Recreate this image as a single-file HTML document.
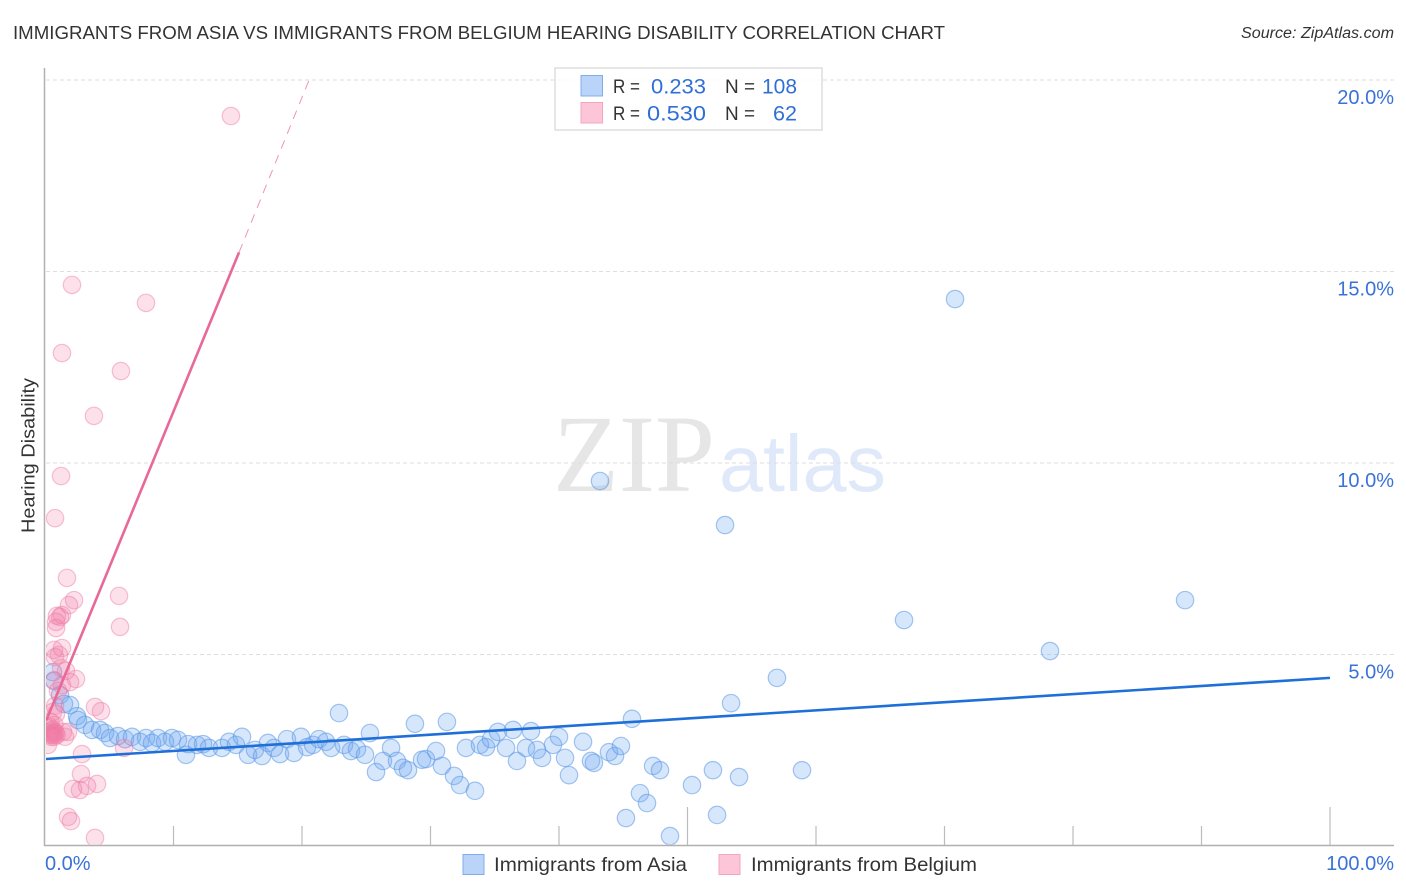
<!DOCTYPE html>
<html lang="en">
<head>
<meta charset="utf-8">
<title>Immigrants from Asia vs Immigrants from Belgium Hearing Disability Correlation Chart</title>
<style>
html,body{margin:0;padding:0;background:#fff;width:1406px;height:892px;overflow:hidden}
svg{display:block;font-family:"Liberation Sans",sans-serif}
</style>
</head>
<body>
<svg id="chart" width="1406" height="892" viewBox="0 0 1406 892" xmlns="http://www.w3.org/2000/svg">
  <defs>
    <clipPath id="plot-clip"><rect x="46" y="60" width="1350" height="784.5"/></clipPath>
  </defs>
  <rect width="1406" height="892" fill="#fff"/>
  <text x="13" y="39" font-size="18.5" fill="#333" textLength="932" lengthAdjust="spacingAndGlyphs">IMMIGRANTS FROM ASIA VS IMMIGRANTS FROM BELGIUM HEARING DISABILITY CORRELATION CHART</text>
  <text x="1394" y="38" font-size="15.5" font-style="italic" fill="#333" text-anchor="end" textLength="153" lengthAdjust="spacingAndGlyphs">Source: ZipAtlas.com</text>
  <g>
    <text x="553" y="491" font-family="'Liberation Serif',serif" font-size="110" fill="#e6e6e6" textLength="162" lengthAdjust="spacingAndGlyphs">ZIP</text>
    <text x="719" y="491" font-size="80" fill="#dfe9f9" textLength="167" lengthAdjust="spacingAndGlyphs">atlas</text>
  </g>
  <g id="grid"></g>
  <g id="axes"></g>
  <g id="labels"></g>
  <text transform="translate(34.5,455.5) rotate(-90)" font-size="18.5" fill="#333" text-anchor="middle" textLength="155" lengthAdjust="spacingAndGlyphs">Hearing Disability</text>
  <g clip-path="url(#plot-clip)">
    <g id="points"></g>
    <g id="lines"></g>
  </g>
  <g>
    <rect x="555" y="68" width="267" height="62" fill="#fff" fill-opacity="0.85" stroke="#ddd" stroke-width="1.5"/>
    <rect x="581" y="75.5" width="21.5" height="20.5" fill="#b9d4f8" stroke="#7fadea" stroke-width="1"/>
    <rect x="581" y="102.5" width="21.5" height="20.5" fill="#fcc5d8" stroke="#f3a5c0" stroke-width="1"/>
    <g font-size="19.5" fill="#333">
      <text x="613" y="93" textLength="27" lengthAdjust="spacingAndGlyphs">R =</text>
      <text x="725" y="93" textLength="30" lengthAdjust="spacingAndGlyphs">N =</text>
      <text x="613" y="120" textLength="27" lengthAdjust="spacingAndGlyphs">R =</text>
      <text x="725" y="120" textLength="30" lengthAdjust="spacingAndGlyphs">N =</text>
    </g>
    <g font-size="21" fill="#2f6fd6">
      <text x="651" y="93.5" textLength="55" lengthAdjust="spacingAndGlyphs">0.233</text>
      <text x="762" y="93.5" textLength="35" lengthAdjust="spacingAndGlyphs">108</text>
      <text x="647" y="120.5" textLength="59" lengthAdjust="spacingAndGlyphs">0.530</text>
      <text x="773" y="120.5" textLength="24" lengthAdjust="spacingAndGlyphs">62</text>
    </g>
  </g>
  <g>
    <rect x="463" y="854.5" width="21" height="20" fill="#b9d4f8" stroke="#7fadea" stroke-width="1"/>
    <text x="494" y="871" font-size="19.5" fill="#333" textLength="193" lengthAdjust="spacingAndGlyphs">Immigrants from Asia</text>
    <rect x="719" y="854.5" width="21" height="20" fill="#fcc5d8" stroke="#f3a5c0" stroke-width="1"/>
    <text x="751" y="871" font-size="19.5" fill="#333" textLength="226" lengthAdjust="spacingAndGlyphs">Immigrants from Belgium</text>
  </g>
</svg>
<script>
const asiaX = [0.62,0.70,1.17,1.48,1.95,2.49,2.57,3.11,3.66,4.28,4.67,5.06,5.68,6.23,6.77,7.39,7.86,8.33,8.79,9.34,9.88,10.35,10.97,11.13,11.83,12.30,12.76,13.77,14.32,14.86,15.33,15.80,16.34,16.89,17.35,17.82,18.29,18.83,19.38,19.92,20.39,20.86,21.32,21.87,22.26,22.88,23.27,23.81,24.28,24.90,25.29,25.76,26.30,26.93,27.39,27.86,28.25,28.79,29.34,29.65,30.43,30.89,31.28,31.83,32.30,32.76,33.46,33.85,34.32,34.71,35.25,35.88,36.42,36.73,37.43,37.82,38.29,38.68,39.53,40.00,40.47,40.78,41.87,42.49,42.72,43.19,43.89,44.36,44.82,45.21,45.68,46.30,46.85,47.32,47.86,48.64,50.35,51.98,52.30,52.92,53.39,54.01,56.96,58.91,66.85,70.82,78.21,88.72];
const asiaY = [4.54,4.31,3.94,3.71,3.68,3.39,3.29,3.16,3.03,3.03,2.95,2.82,2.87,2.79,2.85,2.72,2.82,2.69,2.82,2.72,2.82,2.77,2.38,2.66,2.64,2.66,2.56,2.56,2.72,2.64,2.85,2.38,2.51,2.35,2.69,2.56,2.40,2.79,2.43,2.85,2.58,2.64,2.79,2.72,2.56,3.47,2.64,2.48,2.53,2.38,2.95,1.93,2.22,2.56,2.22,2.04,1.98,3.19,2.25,2.27,2.48,2.09,3.24,1.83,1.59,2.56,1.44,2.64,2.58,2.79,2.98,2.56,3.03,2.22,2.56,3.00,2.51,2.30,2.64,2.85,2.30,1.85,2.72,2.22,2.17,9.53,2.45,2.35,2.61,0.73,3.32,1.38,1.12,2.09,1.98,0.26,1.59,1.98,0.81,8.38,3.73,1.80,4.39,1.98,5.90,14.28,5.09,6.42];
const belgiumX = [14.47,2.10,7.86,1.32,5.91,3.81,1.25,0.78,1.71,5.76,5.84,2.26,1.87,1.32,0.93,1.17,0.86,0.86,0.70,1.32,0.78,1.09,1.25,1.63,2.41,1.95,0.70,1.32,1.01,3.89,4.36,0.78,0.62,0.86,0.43,0.74,0.36,0.59,0.43,0.74,0.36,0.59,0.82,0.43,0.67,0.90,0.51,0.74,1.40,1.56,1.79,0.23,6.15,2.88,2.80,4.05,3.27,2.72,2.18,1.79,2.02,3.89];
const belgiumY = [19.06,14.65,14.18,12.87,12.40,11.23,9.66,8.56,7.00,6.53,5.72,6.42,6.29,6.03,6.01,5.98,5.85,5.69,5.12,5.17,4.93,4.99,4.65,4.57,4.36,4.28,4.33,4.20,4.05,3.63,3.52,3.66,3.50,3.45,3.24,3.16,3.11,3.03,3.00,2.98,2.95,2.95,2.95,2.90,2.90,2.90,2.85,2.85,2.98,2.85,2.98,2.64,2.56,2.40,1.88,1.62,1.57,1.46,1.49,0.76,0.65,0.21];
const asiaTrendX = [0,100];
const asiaTrendY = [2.27,4.39];
const belgiumSolidX = [0.1,15.1];
const belgiumSolidY = [3.28,15.5];
const belgiumDashX = [15.1,20.55];
const belgiumDashY = [15.5,20.0];
const yTicks = [5,10,15,20];
const yTickLabels = ["5.0%","10.0%","15.0%","20.0%"];
const xTicks = [10,20,30,40,50,60,70,80,90,100];
const xTickMajor = [50,100];
const xEndTicks = [0,100];
const xEndLabels = ["0.0%","100.0%"];

const NS = 'http://www.w3.org/2000/svg';
const xScale = v => 45 + v * 12.85;
const yScale = v => 846 - v * 38.3;
function mk(tag, attrs, parent){
  const el = document.createElementNS(NS, tag);
  for (const k in attrs) el.setAttribute(k, attrs[k]);
  parent.appendChild(el);
  return el;
}
const gridG = document.getElementById('grid');
const axesG = document.getElementById('axes');
const labelsG = document.getElementById('labels');
const pointsG = document.getElementById('points');
const linesG = document.getElementById('lines');

yTicks.forEach((t, i) => {
  const g = mk('line', {x1:46, x2:1394, y1:yScale(t), y2:yScale(t), stroke:'#dedede', 'stroke-width':1, 'stroke-dasharray':'4 3'}, gridG);
  
  
  const l = mk('text', {x:1394, y:yScale(t)+24, 'font-size':20, fill:'#3a72d8', 'text-anchor':'end'}, labelsG);
  l.textContent = yTickLabels[i];
  
  
});

const yAxis = mk('line', {x1:44.5, x2:44.5, y1:68, y2:846, stroke:'#b0b0b0', 'stroke-width':1.5}, axesG);


const xAxis = mk('line', {x1:44, x2:1394, y1:845.5, y2:845.5, stroke:'#b0b0b0', 'stroke-width':1.5}, axesG);


xTicks.forEach(t => {
  const top = xTickMajor.includes(t) ? 807 : 826;
  const k = mk('line', {x1:xScale(t), x2:xScale(t), y1:top, y2:845, stroke:'#bcbcbc', 'stroke-width':1.2}, axesG);
  
  
});
xEndTicks.forEach((t, i) => {
  const anchorX = i === 0 ? 45 : 1394;
  const l = mk('text', {x:anchorX, y:870, 'font-size':20, fill:'#3a72d8', 'text-anchor': i === 0 ? 'start' : 'end'}, labelsG);
  l.textContent = xEndLabels[i];
  
  
});

asiaX.forEach((v, i) => {
  const c = mk('circle', {cx:xScale(v), cy:yScale(asiaY[i]), r:8.7, fill:'#6aa5f0', 'fill-opacity':0.27, stroke:'#5b97e6', 'stroke-opacity':0.55, 'stroke-width':1.2}, pointsG);
  
  
});
belgiumX.forEach((v, i) => {
  const c = mk('circle', {cx:xScale(v), cy:yScale(belgiumY[i]), r:8.7, fill:'#f47fa8', 'fill-opacity':0.24, stroke:'#ee7ba3', 'stroke-opacity':0.45, 'stroke-width':1.2}, pointsG);
  
  
});

const t1 = mk('line', {x1:xScale(asiaTrendX[0]), y1:yScale(asiaTrendY[0]), x2:xScale(asiaTrendX[1]), y2:yScale(asiaTrendY[1]), stroke:'#1f6fd8', 'stroke-width':2.6}, linesG);


const t2 = mk('line', {x1:xScale(belgiumSolidX[0]), y1:yScale(belgiumSolidY[0]), x2:xScale(belgiumSolidX[1]), y2:yScale(belgiumSolidY[1]), stroke:'#e8689a', 'stroke-width':2.6}, linesG);


const t3 = mk('line', {x1:xScale(belgiumDashX[0]), y1:yScale(belgiumDashY[0]), x2:xScale(belgiumDashX[1]), y2:yScale(belgiumDashY[1]), stroke:'#f093b6', 'stroke-width':1, 'stroke-dasharray':'9 7'}, linesG);


</script>
</body>
</html>
